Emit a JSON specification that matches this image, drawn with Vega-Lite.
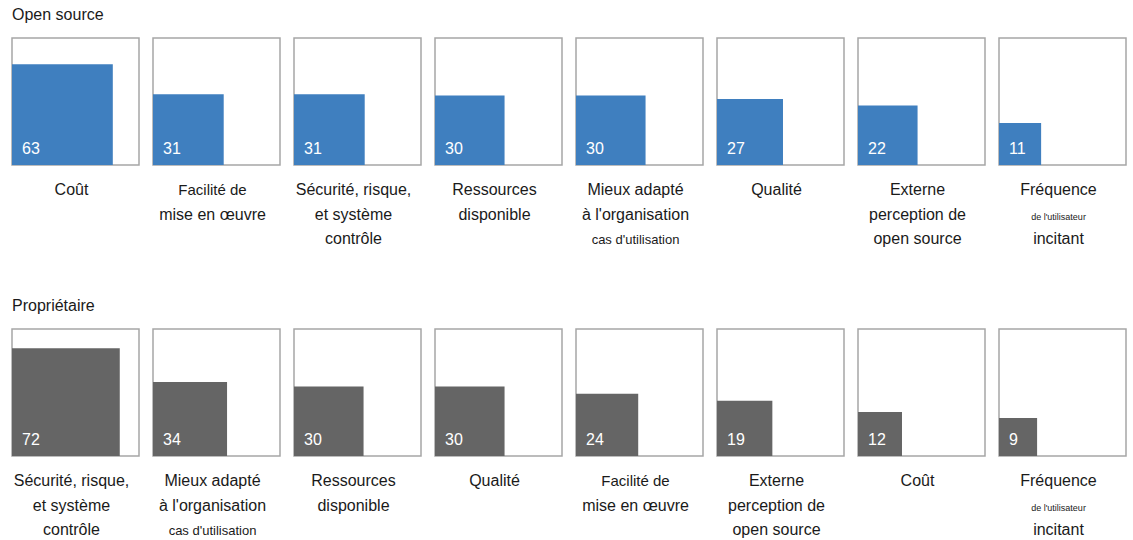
{
  "$schema": "https://vega.github.io/schema/vega-lite/v6.json",
  "padding": {"left": 11, "top": 6, "right": 5, "bottom": 5},
  "bounds": "flush",
  "spacing": {"row": 164, "column": 14},
  "data": {"values": [
    {"groupe": "Open source", "rang": 1, "critere": "Coût", "valeur": 63, "l1": "Coût", "l2": null, "l3": null},
    {"groupe": "Open source", "rang": 2, "critere": "Facilité", "valeur": 31, "l1": "Facilité de", "l2": "mise en œuvre", "l3": null},
    {"groupe": "Open source", "rang": 3, "critere": "Sécurité", "valeur": 31, "l1": "Sécurité, risque,", "l2": "et système", "l3": "contrôle"},
    {"groupe": "Open source", "rang": 4, "critere": "Ressources", "valeur": 30, "l1": "Ressources", "l2": "disponible", "l3": null},
    {"groupe": "Open source", "rang": 5, "critere": "Mieux adapté", "valeur": 30, "l1": "Mieux adapté", "l2": "à l'organisation", "l3": "cas d'utilisation"},
    {"groupe": "Open source", "rang": 6, "critere": "Qualité", "valeur": 27, "l1": "Qualité", "l2": null, "l3": null},
    {"groupe": "Open source", "rang": 7, "critere": "Externe", "valeur": 22, "l1": "Externe", "l2": "perception de", "l3": "open source"},
    {"groupe": "Open source", "rang": 8, "critere": "Fréquence", "valeur": 11, "l1": "Fréquence", "l2": "de l'utilisateur", "l3": "incitant"},
    {"groupe": "Propriétaire", "rang": 1, "critere": "Sécurité", "valeur": 72, "l1": "Sécurité, risque,", "l2": "et système", "l3": "contrôle"},
    {"groupe": "Propriétaire", "rang": 2, "critere": "Mieux adapté", "valeur": 34, "l1": "Mieux adapté", "l2": "à l'organisation", "l3": "cas d'utilisation"},
    {"groupe": "Propriétaire", "rang": 3, "critere": "Ressources", "valeur": 30, "l1": "Ressources", "l2": "disponible", "l3": null},
    {"groupe": "Propriétaire", "rang": 4, "critere": "Qualité", "valeur": 30, "l1": "Qualité", "l2": null, "l3": null},
    {"groupe": "Propriétaire", "rang": 5, "critere": "Facilité", "valeur": 24, "l1": "Facilité de", "l2": "mise en œuvre", "l3": null},
    {"groupe": "Propriétaire", "rang": 6, "critere": "Externe", "valeur": 19, "l1": "Externe", "l2": "perception de", "l3": "open source"},
    {"groupe": "Propriétaire", "rang": 7, "critere": "Coût", "valeur": 12, "l1": "Coût", "l2": null, "l3": null},
    {"groupe": "Propriétaire", "rang": 8, "critere": "Fréquence", "valeur": 9, "l1": "Fréquence", "l2": "de l'utilisateur", "l3": "incitant"}
  ]},
  "facet": {
    "row": {"field": "groupe", "type": "nominal", "header": {"labels": false, "title": null}},
    "column": {"field": "rang", "type": "ordinal", "header": {"labels": false, "title": null}}
  },
  "spec": {
    "width": 127,
    "height": 127,
    "layer": [
      {
        "mark": {"type": "rect"},
        "encoding": {
          "x": {"field": "valeur", "type": "quantitative", "scale": {"type": "sqrt", "domain": [0, 100], "nice": false}, "axis": null},
          "x2": {"datum": 0},
          "y": {"field": "valeur", "type": "quantitative", "scale": {"type": "sqrt", "domain": [0, 100], "nice": false}, "axis": null},
          "y2": {"datum": 0},
          "color": {"field": "groupe", "type": "nominal", "scale": {"domain": ["Open source", "Propriétaire"], "range": ["#3f7fbf", "#656565"]}, "legend": null}
        }
      },
      {
        "mark": {"type": "text", "align": "left", "baseline": "alphabetic", "dx": 10, "dy": -11, "fontSize": 16, "color": "#ffffff"},
        "encoding": {
          "x": {"datum": 0, "type": "quantitative"},
          "y": {"datum": 0, "type": "quantitative"},
          "text": {"field": "valeur", "type": "quantitative"}
        }
      },
      {
        "mark": {"type": "text", "align": "center", "baseline": "alphabetic", "dx": -4, "dy": 30, "fontSize": 16, "color": "#1a1a1a"},
        "encoding": {
          "x": {"datum": 25, "type": "quantitative"},
          "y": {"datum": 0, "type": "quantitative"},
          "text": {"field": "l1"},
          "size": {"condition": {"test": "datum.critere === 'Facilité'", "value": 15}, "value": 16}
        }
      },
      {
        "transform": [{"filter": "datum.l2 != null"}],
        "mark": {"type": "text", "align": "center", "baseline": "alphabetic", "dx": -4, "dy": 55, "color": "#1a1a1a"},
        "encoding": {
          "x": {"datum": 25, "type": "quantitative"},
          "y": {"datum": 0, "type": "quantitative"},
          "text": {"field": "l2"},
          "size": {"condition": {"test": "datum.critere === 'Fréquence'", "value": 9}, "value": 16}
        }
      },
      {
        "transform": [{"filter": "datum.l3 != null"}],
        "mark": {"type": "text", "align": "center", "baseline": "alphabetic", "dx": -4, "dy": 79, "color": "#1a1a1a"},
        "encoding": {
          "x": {"datum": 25, "type": "quantitative"},
          "y": {"datum": 0, "type": "quantitative"},
          "text": {"field": "l3"},
          "size": {"condition": {"test": "datum.critere === 'Mieux adapté'", "value": 13}, "value": 16}
        }
      },
      {
        "transform": [{"filter": "datum.rang === 1"}],
        "mark": {"type": "text", "align": "left", "baseline": "alphabetic", "dy": -18, "fontSize": 16, "color": "#1a1a1a"},
        "encoding": {
          "x": {"datum": 0, "type": "quantitative"},
          "y": {"datum": 100, "type": "quantitative"},
          "text": {"field": "groupe"}
        }
      }
    ]
  },
  "config": {
    "font": "Liberation Sans",
    "text": {"font": "Liberation Sans"},
    "view": {"stroke": "#a6a6a6", "strokeWidth": 1.5}
  }
}
